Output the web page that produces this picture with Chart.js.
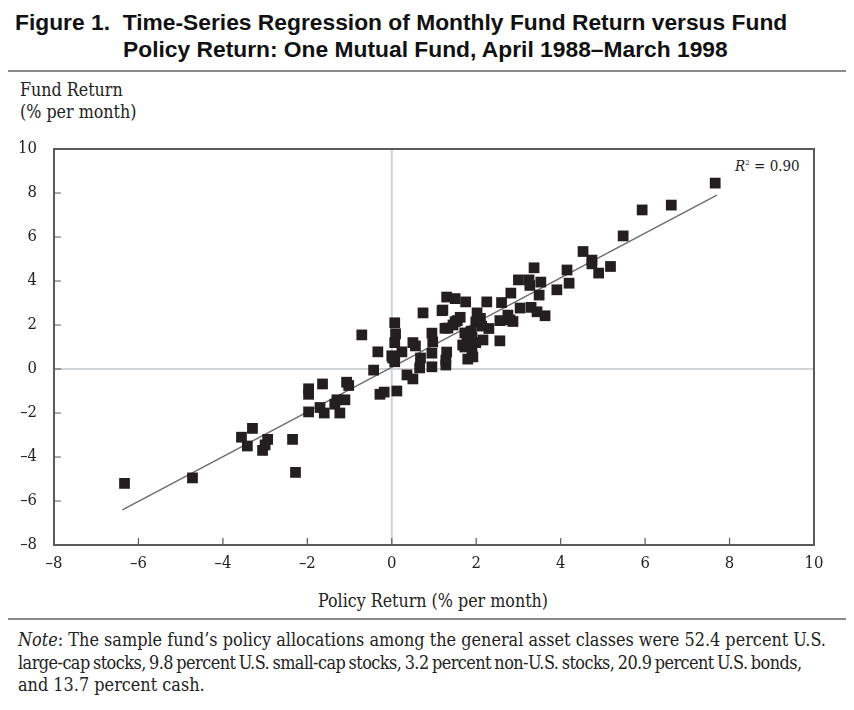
<!DOCTYPE html>
<html>
<head>
<meta charset="utf-8">
<script src="https://cdn.jsdelivr.net/npm/chart.js@4.4.1/dist/chart.umd.min.js"></script>
<style>
  html, body { margin:0; padding:0; background:#fff; }
  body { width:854px; height:710px; position:relative; overflow:hidden; }
  .title { position:absolute; left:0; top:9px; width:854px; font-family:"Liberation Sans",Arial,sans-serif; font-weight:bold; font-size:22.8px; line-height:26px; color:#111; }
  .title div { white-space:nowrap; position:absolute; }
  .rule { position:absolute; left:8px; width:838px; height:2px; background:#8a8a8a; }
  .serif { font-family:"DejaVu Serif Condensed","DejaVu Serif","Liberation Serif",serif; font-stretch:condensed; color:#222; position:absolute; white-space:nowrap; }
  #wrap { position:absolute; left:0; top:140px; width:854px; height:440px; }
</style>
</head>
<body>
<div class="title">
  <div style="left:15px; top:0px;">Figure 1.&nbsp; Time-Series Regression of Monthly Fund Return versus Fund</div>
  <div style="left:123px; top:27px;">Policy Return: One Mutual Fund, April 1988–March 1998</div>
</div>
<div class="rule" style="top:70px;"></div>
<div class="serif" style="left:20px; top:79px; font-size:17.7px; line-height:22px;">Fund Return<br>(% per month)</div>
<div class="serif" style="left:735px; top:157px; font-size:15px;"><i>R</i><sup style="font-size:8px;">2</sup> = 0.90</div>
<div id="wrap"><canvas id="c" width="854" height="440"></canvas></div>
<div class="serif" style="left:0; width:866px; text-align:center; top:591px; font-size:17.7px;">Policy Return (% per month)</div>
<div class="rule" style="top:618px;"></div>
<div class="serif" style="left:18px; top:629px; font-size:17.9px; line-height:22.5px;">
  <div><i>Note</i>: The sample fund’s policy allocations among the general asset classes were 52.4 percent U.S.</div>
  <div style="letter-spacing:-0.55px; word-spacing:-1.2px;">large-cap stocks, 9.8 percent U.S. small-cap stocks, 3.2 percent non-U.S. stocks, 20.9 percent U.S. bonds,</div>
  <div>and 13.7 percent cash.</div>
</div>

<script>
// Policy return (x) and fund return (y), % per month
const policyReturn = [
  -6.33, -4.72, -3.56, -3.30, -3.42, -2.94, -3.06, -3.00, -2.35, -2.28,
  -1.97, -1.97, -1.64, -1.97, -1.70, -1.60, -1.30, -1.11, -1.23, -1.35,
  -1.07, -1.02, -0.71, -0.43, -0.33, -0.28, -0.18, 0.12, 0.07, 0.09,
  0.07, 0.02, 0.07, 0.24, 0.50, 0.56, 0.36, 0.50, 0.74, 1.19,
  0.95, 0.97, 1.26, 1.50, 0.68, 0.66, 0.95, 0.95, 1.30, 1.28,
  1.28, 1.78, 1.80, 1.90, 1.73, 1.30, 1.50, 1.75, 1.21, 2.02,
  1.55, 1.45, 1.33, 1.99, 2.13, 2.30, 1.88, 1.90, 2.16, 1.99,
  2.56, 1.68, 1.73, 1.92, 2.25, 2.60, 2.82, 3.00, 3.25, 3.27,
  3.53, 3.37, 4.15, 4.20, 3.91, 3.49, 3.04, 3.30, 3.44, 3.63,
  2.75, 2.87, 2.56, 2.80, 4.53, 4.74, 4.74, 4.90, 5.18, 5.48,
  5.93, 6.62, 7.66, 0.00, 1.62, 2.10
];
const fundReturn = [
  -5.20, -4.95, -3.10, -2.70, -3.50, -3.20, -3.70, -3.45, -3.20, -4.70,
  -0.90, -1.15, -0.68, -1.95, -1.75, -2.00, -1.40, -1.40, -2.00, -1.60,
  -0.60, -0.75, 1.55, -0.05, 0.78, -1.15, -1.05, -1.00, 2.10, 1.60,
  1.20, 0.50, 0.33, 0.78, 1.20, 1.05, -0.27, -0.45, 2.55, 2.65,
  1.63, 1.23, 1.85, 2.15, 0.50, 0.05, 0.72, 0.10, 0.77, 0.40,
  0.18, 1.20, 0.45, 0.72, 1.64, 3.27, 3.20, 3.05, 2.68, 2.55,
  2.20, 2.00, 1.86, 2.14, 1.95, 1.84, 1.72, 1.45, 1.32, 1.20,
  1.28, 1.09, 1.00, 0.55, 3.05, 3.02, 3.45, 4.05, 4.05, 3.80,
  3.95, 4.60, 4.50, 3.90, 3.60, 3.36, 2.77, 2.80, 2.60, 2.42,
  2.45, 2.16, 2.20, 2.23, 5.34, 4.95, 4.78, 4.36, 4.66, 6.05,
  7.23, 7.45, 8.45, 0.60, 2.35, 2.30
];
// Fitted regression line endpoints
const fitX = [-6.38, 7.70];
const fitY = [-6.40, 7.90];
const xTicks = [-8, -6, -4, -2, 0, 2, 4, 6, 8, 10];
const yTicks = [-8, -6, -4, -2, 0, 2, 4, 6, 8, 10];

const pts = policyReturn.map((x, i) => ({ x: x, y: fundReturn[i] }));
const fit = fitX.map((x, i) => ({ x: x, y: fitY[i] }));
const dash = v => (v < 0 ? '\u2013' + Math.abs(v) : String(v));
const tickFont = { family: '"DejaVu Serif Condensed", "DejaVu Serif", serif', size: 16.5 };

const frame = {
  id: 'frame',
  beforeDatasetsDraw(chart) {
    const { ctx, chartArea: a, scales } = chart;
    ctx.save();
    ctx.strokeStyle = '#cfd3d6';
    ctx.lineWidth = 2;
    const x0 = scales.x.getPixelForValue(0), y0 = scales.y.getPixelForValue(0);
    ctx.beginPath();
    ctx.moveTo(x0, a.top); ctx.lineTo(x0, a.bottom);
    ctx.moveTo(a.left, y0); ctx.lineTo(a.right, y0);
    ctx.stroke();
    ctx.strokeStyle = '#5a5a5a';
    ctx.lineWidth = 2;
    ctx.strokeRect(a.left, a.top, a.right - a.left, a.bottom - a.top);
    ctx.lineWidth = 1.2;
    ctx.beginPath();
    scales.x.ticks.forEach(t => {
      const px = scales.x.getPixelForValue(t.value);
      ctx.moveTo(px, a.bottom); ctx.lineTo(px, a.bottom - 7);
    });
    scales.y.ticks.forEach(t => {
      const py = scales.y.getPixelForValue(t.value);
      ctx.moveTo(a.left, py); ctx.lineTo(a.left + 7, py);
    });
    ctx.stroke();
    ctx.restore();
  }
};

new Chart(document.getElementById('c'), {
  type: 'scatter',
  data: {
    datasets: [
      { data: fit, type: 'line', showLine: true, borderColor: '#6e6e6e', borderWidth: 1.5, pointRadius: 0, fill: false, order: 2 },
      { data: pts, pointStyle: 'rect', pointRadius: 7.6, pointHoverRadius: 7.6, backgroundColor: '#231f20', borderWidth: 0, order: 1 }
    ]
  },
  options: {
    responsive: false,
    animation: false,
    events: [],
    layout: { padding: { top: 9, right: 40, left: 0, bottom: 0 } },
    plugins: { legend: { display: false }, tooltip: { enabled: false } },
    scales: {
      x: {
        type: 'linear', min: -8, max: 10,
        afterFit: s => { s.height = 35; s.paddingLeft = 0; s.paddingRight = 0; },
        afterBuildTicks: s => { s.ticks = xTicks.map(v => ({ value: v })); },
        grid: { display: false, drawTicks: false },
        border: { display: false },
        ticks: { padding: 9, color: '#222', font: tickFont, callback: v => dash(v), maxRotation: 0 }
      },
      y: {
        type: 'linear', min: -8, max: 10,
        afterFit: s => { s.width = 54; s.paddingTop = 0; s.paddingBottom = 0; },
        afterBuildTicks: s => { s.ticks = yTicks.map(v => ({ value: v })); },
        grid: { display: false, drawTicks: false },
        border: { display: false },
        ticks: { padding: 17, color: '#222', font: tickFont, callback: v => dash(v) }
      }
    }
  },
  plugins: [frame]
});
</script>
</body>
</html>
